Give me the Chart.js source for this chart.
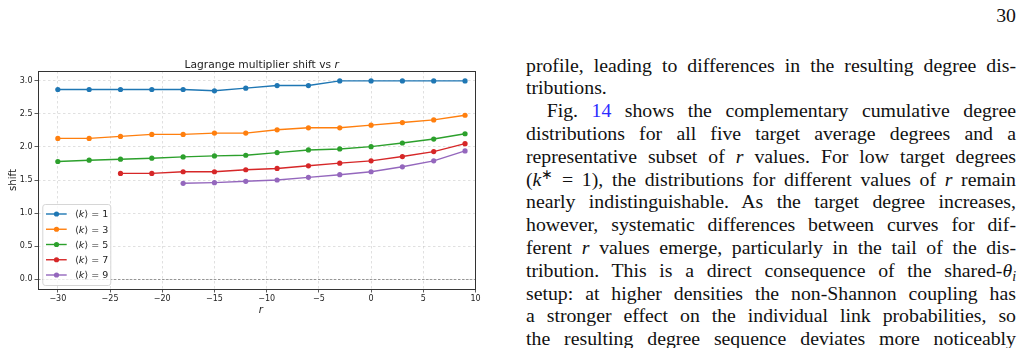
<!DOCTYPE html>
<html><head><meta charset="utf-8">
<script src="https://cdn.jsdelivr.net/npm/chart.js@4.4.0/dist/chart.umd.min.js"></script>
<style>
html,body{margin:0;padding:0;background:#fff;width:1023px;height:348px;overflow:hidden;}
#wrap{position:absolute;left:0;top:0;width:500px;height:348px;}
#txt{position:absolute;left:526px;top:0;width:490px;height:348px;font-family:"Liberation Serif",serif;font-size:19.8px;color:#111;}
.l{position:absolute;left:0;width:490px;text-align:justify;text-align-last:justify;line-height:22px;white-space:normal;}
.l.lf{text-align-last:left;}
.pg{position:absolute;right:0;top:4px;line-height:22px;}
.sup{font-size:0.7em;position:relative;top:-0.5em;}
.sub{font-size:0.7em;position:relative;top:0.3em;}
.ref{color:#2b2bff;}
i{font-family:"Liberation Serif",serif;font-style:italic;}
</style></head>
<body>
<div id="wrap"><canvas id="c" width="500" height="348"></canvas></div>
<div id="txt">
<div class="pg">30</div>
<div class="l" style="top:53.5px">profile, leading to differences in the resulting degree dis-</div>
<div class="l lf" style="top:76.3px">tributions.</div>
<div class="l" style="top:99.1px;left:20.7px;width:469.3px">Fig. <span class="ref">14</span> shows the complementary cumulative degree</div>
<div class="l" style="top:121.9px">distributions for all five target average degrees and a</div>
<div class="l" style="top:144.7px">representative subset of <i>r</i> values. For low target degrees</div>
<div class="l" style="top:167.5px">(<i>k</i><span class="sup">∗</span> = 1), the distributions for different values of <i>r</i> remain</div>
<div class="l" style="top:190.3px">nearly indistinguishable. As the target degree increases,</div>
<div class="l" style="top:213.1px">however, systematic differences between curves for dif-</div>
<div class="l" style="top:235.9px">ferent <i>r</i> values emerge, particularly in the tail of the dis-</div>
<div class="l" style="top:258.7px">tribution. This is a direct consequence of the shared-<i>θ</i><span class="sub"><i>i</i></span></div>
<div class="l" style="top:281.5px">setup: at higher densities the non-Shannon coupling has</div>
<div class="l" style="top:304.3px">a stronger effect on the individual link probabilities, so</div>
<div class="l" style="top:327.1px">the resulting degree sequence deviates more noticeably</div>
</div>
<script>
// ---- data ----
const rValues = [-30, -27, -24, -21, -18, -15, -12, -9, -6, -3, 0, 3, 6, 9];
const shiftK1 = [2.87, 2.87, 2.87, 2.87, 2.87, 2.85, 2.89, 2.93, 2.93, 3.00, 3.00, 3.00, 3.00, 3.00];
const shiftK3 = [2.13, 2.13, 2.16, 2.19, 2.19, 2.21, 2.21, 2.26, 2.29, 2.29, 2.33, 2.37, 2.41, 2.48];
const shiftK5 = [1.78, 1.80, 1.815, 1.83, 1.85, 1.865, 1.875, 1.915, 1.955, 1.97, 2.005, 2.06, 2.12, 2.20];
const shiftK7 = [null, null, 1.60, 1.60, 1.625, 1.625, 1.655, 1.675, 1.715, 1.755, 1.79, 1.855, 1.93, 2.05];
const shiftK9 = [null, null, null, null, 1.45, 1.46, 1.48, 1.50, 1.54, 1.58, 1.625, 1.70, 1.79, 1.94];
const kLabels = ['1', '3', '5', '7', '9'];
const xTicks = [-30, -25, -20, -15, -10, -5, 0, 5, 10];
const yTicks = [0.0, 0.5, 1.0, 1.5, 2.0, 2.5, 3.0];
const titleText = 'Lagrange multiplier shift vs ';
const titleVar = 'r';
const xLabel = 'r';
const yLabel = 'shift';

// ---- style ----
const colors = ['#1f77b4', '#ff7f0e', '#2ca02c', '#d62728', '#9467bd'];
const FONT = '"DejaVu Sans", sans-serif';
const allSeries = [shiftK1, shiftK3, shiftK5, shiftK7, shiftK9];

const datasets = allSeries.map((s, i) => ({
  label: kLabels[i],
  data: rValues.map((r, j) => ({x: r, y: s[j]})).filter(p => p.y !== null),
  borderColor: colors[i],
  backgroundColor: colors[i],
  borderWidth: 1.4,
  pointRadius: 2.6,
  pointBorderWidth: 0,
  pointBackgroundColor: colors[i],
  tension: 0,
  fill: false
}));

const fmtMinus = v => String(v).replace('-', '\u2212');

const decor = {
  id: 'decor',
  beforeDatasetsDraw(chart) {
    const {ctx, chartArea: a, scales: {y}} = chart;
    const py = Math.round(y.getPixelForValue(0)) + 0.5;
    ctx.save();
    ctx.strokeStyle = '#808080';
    ctx.lineWidth = 0.8;
    ctx.setLineDash([2.4, 1.6]);
    ctx.beginPath(); ctx.moveTo(a.left, py); ctx.lineTo(a.right, py); ctx.stroke();
    ctx.restore();
  },
  afterDraw(chart) {
    const {ctx, chartArea: a} = chart;
    ctx.save();
    // frame
    ctx.strokeStyle = '#333';
    ctx.lineWidth = 1;
    ctx.strokeRect(Math.round(a.left) + 0.5, Math.round(a.top) + 0.5, Math.round(a.right - a.left) - 1, Math.round(a.bottom - a.top));
    // title
    ctx.fillStyle = '#222';
    ctx.textBaseline = 'alphabetic';
    ctx.font = '10.7px ' + FONT;
    const w1 = ctx.measureText(titleText).width;
    ctx.font = 'italic 10.7px ' + FONT;
    const w2 = ctx.measureText(titleVar).width;
    let tx = 261.7 - (w1 + w2) / 2;
    ctx.font = '10.7px ' + FONT;
    ctx.fillText(titleText, tx, 67.7);
    ctx.font = 'italic 10.7px ' + FONT;
    ctx.fillText(titleVar, tx + w1, 67.7);
    // x label
    ctx.font = 'italic 10.2px ' + FONT;
    ctx.textAlign = 'center';
    ctx.fillText(xLabel, 260.8, 313);
    // y label
    ctx.save();
    ctx.translate(15.7, 180);
    ctx.rotate(-Math.PI / 2);
    ctx.font = '10.2px ' + FONT;
    ctx.fillText(yLabel, 0, 0);
    ctx.restore();
    // legend
    ctx.textAlign = 'left';
    const lx = 42.3, ly = 204, lw = 68, lh = 81;
    ctx.beginPath();
    if (ctx.roundRect) ctx.roundRect(lx + 0.5, ly + 0.5, lw, lh, 2.5); else ctx.rect(lx + 0.5, ly + 0.5, lw, lh);
    ctx.fillStyle = 'rgba(255,255,255,0.8)';
    ctx.fill();
    ctx.strokeStyle = '#d6d6d6';
    ctx.lineWidth = 1;
    ctx.stroke();
    const lfs = 9.5;
    chart.data.datasets.forEach((ds, i) => {
      const yy = 214 + 15.25 * i;
      ctx.strokeStyle = ds.borderColor;
      ctx.lineWidth = 1.4;
      ctx.beginPath(); ctx.moveTo(46, yy); ctx.lineTo(66.7, yy); ctx.stroke();
      ctx.fillStyle = ds.borderColor;
      ctx.beginPath(); ctx.arc(56.5, yy, 2.6, 0, Math.PI * 2); ctx.fill();
      ctx.fillStyle = '#222';
      const base = yy + 3.4;
      let x = 75;
      ctx.font = lfs + 'px ' + FONT;
      ctx.fillText('\u27E8', x, base); x += ctx.measureText('\u27E8').width;
      ctx.font = 'italic ' + lfs + 'px ' + FONT;
      ctx.fillText('k', x, base); x += ctx.measureText('k').width + 0.4;
      ctx.font = lfs + 'px ' + FONT;
      ctx.fillText('\u27E9 = ' + ds.label, x, base);
    });
    ctx.restore();
  }
};

new Chart(document.getElementById('c'), {
  type: 'line',
  data: {datasets},
  options: {
    responsive: false,
    animation: false,
    layout: {padding: {left: 0, top: 71, right: 24, bottom: 0}},
    plugins: {legend: {display: false}, tooltip: {enabled: false}, title: {display: false}},
    scales: {
      x: {
        type: 'linear', min: -31.9, max: 10.05,
        afterBuildTicks: s => { s.ticks = xTicks.map(v => ({value: v})); },
        afterFit: s => { s.height = 59; },
        ticks: {font: {family: FONT, size: 8}, color: '#222', padding: 2, maxRotation: 0, autoSkip: false,
                callback: v => fmtMinus(v)},
        grid: {color: 'rgba(190,190,190,0.6)', lineWidth: 0.8, tickLength: 3.5, tickColor: '#333', tickWidth: 0.8, tickBorderDash: []},
        border: {display: false, dash: [2.5, 2.5]}
      },
      y: {
        type: 'linear', min: -0.15, max: 3.15,
        afterBuildTicks: s => { s.ticks = yTicks.map(v => ({value: v})); },
        afterFit: s => { s.width = 38; },
        ticks: {font: {family: FONT, size: 8}, color: '#222', padding: 2,
                callback: v => Number(v).toFixed(1)},
        grid: {color: 'rgba(190,190,190,0.6)', lineWidth: 0.8, tickLength: 3.5, tickColor: '#333', tickWidth: 0.8, tickBorderDash: []},
        border: {display: false, dash: [2.5, 2.5]}
      }
    }
  },
  plugins: [decor]
});
</script>
</body></html>
